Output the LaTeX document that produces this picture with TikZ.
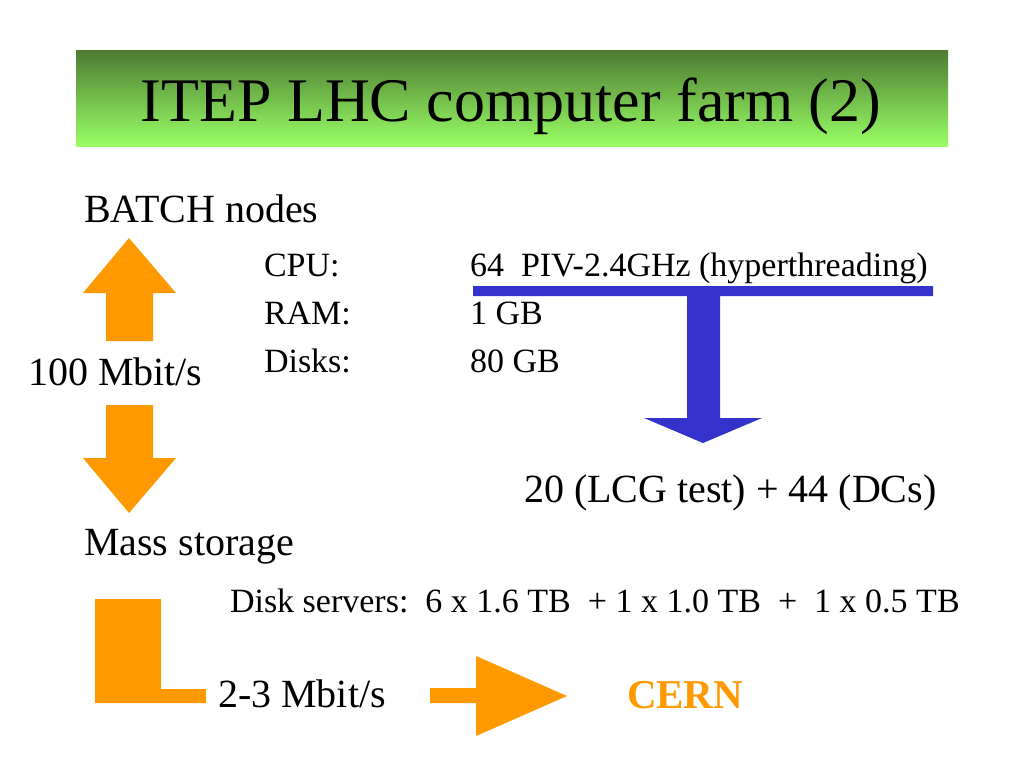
\documentclass[tikz,border=0pt]{standalone}
\usepackage{fontspec}
\setmainfont{Liberation Serif}
\definecolor{orangeC}{HTML}{FF9900}
\definecolor{blueC}{HTML}{3333CC}
\definecolor{greenTop}{RGB}{78,124,50}
\definecolor{greenBot}{RGB}{153,255,102}
\tikzset{
  txt/.style={anchor=base west, inner sep=0pt, outer sep=0pt, font=\fontsize{40}{40}\selectfont},
  smalltxt/.style={anchor=base west, inner sep=0pt, outer sep=0pt, font=\fontsize{34}{34}\selectfont},
  titletxt/.style={anchor=base, inner sep=0pt, font=\fontsize{62}{62}\selectfont},
  orangeshape/.style={fill=orangeC},
  blueshape/.style={fill=blueC}
}
\begin{document}
\begin{tikzpicture}[x=1pt,y=-1pt]
\useasboundingbox (0,0) rectangle (1024,768);
\fill[white] (0,0) rectangle (1024,768);
% title bar
\shade[top color=greenTop, bottom color=greenBot] (76,51) rectangle (948,146);
\node[titletxt] (title) at (511,121) {ITEP LHC computer farm (2)};
% texts
\node[txt] (batch) at (84,222) {BATCH nodes};
\node[smalltxt] (cpu) at (264,276) {CPU:};
\node[smalltxt] (ram) at (264,324) {RAM:};
\node[smalltxt] (disks) at (264,372) {Disks:};
\node[smalltxt] (cpuv) at (470,276) {64\ \ PIV-2.4GHz (hyperthreading)};
\node[smalltxt] (ramv) at (470,324) {1 GB};
\node[smalltxt] (disksv) at (470,372) {80 GB};
\node[txt] (rate1) at (28,385) {100 Mbit/s};
\node[txt] (lcg) at (524,502) {20 (LCG test) + 44 (DCs)};
\node[txt] (mass) at (84,555) {Mass storage};
\node[smalltxt] (servers) at (230,612) {Disk servers:\ \ 6 x 1.6 TB\ \ + 1 x 1.0 TB\ \ +\ \ 1 x 0.5 TB};
\node[txt] (rate2) at (218,707) {2-3 Mbit/s};
\node[txt, font=\fontsize{41}{41}\selectfont\bfseries, text=orangeC] (cern) at (627,708) {CERN};
% orange up arrow
\fill[orangeshape] (129,238) -- (176,293) -- (153,293) -- (153,341) -- (106,341) -- (106,293) -- (83,293) -- cycle;
% orange down arrow
\fill[orangeshape] (106,405) -- (153,405) -- (153,458) -- (176,458) -- (129,513) -- (83,458) -- (106,458) -- cycle;
% blue T arrow
\fill[blueshape] (473,286) -- (933,286) -- (933,296) -- (720,296) -- (720,418) -- (762,418) -- (703,443) -- (644,418) -- (687,418) -- (687,296) -- (473,296) -- cycle;
% orange L
\fill[orangeshape] (95,599) -- (161,599) -- (161,689) -- (206,689) -- (206,703) -- (95,703) -- cycle;
% orange right arrow
\fill[orangeshape] (430,688) -- (476,688) -- (476,656) -- (567,696) -- (476,736) -- (476,703) -- (430,703) -- cycle;
\end{tikzpicture}
\end{document}
